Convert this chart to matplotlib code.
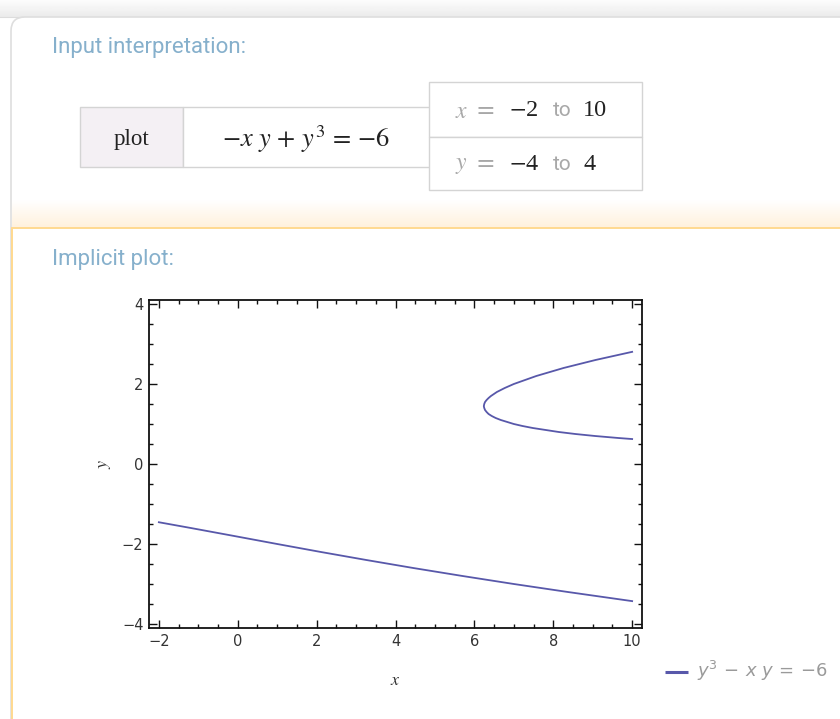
import numpy as np
import matplotlib.pyplot as plt
from matplotlib.colors import LinearSegmentedColormap
from matplotlib.patches import Rectangle, FancyBboxPatch
from matplotlib.ticker import MultipleLocator

lower_x = [-2.0, -1.19, -0.09, 1.0, 2.11, 3.26, 4.45, 5.70, 7.0, 8.37, 9.80, 10.0]
lower_y = [-1.456, -1.6, -1.8, -2.0, -2.2, -2.4, -2.6, -2.8, -3.0, -3.2, -3.4, -3.428]

upper_x = [10.0, 9.65, 9.06, 8.56, 8.14, 7.48, 7.22, 7.0, 6.67, 6.54, 6.44, 6.36, 6.31,
           6.27, 6.25, 6.24, 6.24, 6.25, 6.27, 6.31, 6.36, 6.42, 6.57, 6.77, 7.0,
           7.57, 8.26, 9.07, 10.0]
upper_y = [0.624, 0.65, 0.7, 0.75, 0.8, 0.9, 0.95, 1.0, 1.1, 1.15, 1.2, 1.25, 1.3,
           1.35, 1.4, 1.442, 1.45, 1.5, 1.55, 1.6, 1.65, 1.7, 1.8, 1.9, 2.0,
           2.2, 2.4, 2.6, 2.804]

x_range = (-2, 10)
y_range = (-4, 4)
equation = r"$-x\ y\,+\,y^3\,=\,{-6}$"
legend_label = r"$y^3\,-\,x\ y\,=\,{-6}$"

W, H = 840, 719
CURVE = "#5858aa"
POD_TITLE = "#86b0cc"
GRAY_TXT = "#a8a8a8"

fig = plt.figure(figsize=(W / 100, H / 100), dpi=100)

# background drawn in pixel coordinates
bg = fig.add_axes([0, 0, 1, 1])
bg.set_xlim(0, W)
bg.set_ylim(H, 0)
bg.axis("off")

# top gray band
grad = np.linspace(0.99, 0.92, 20).reshape(-1, 1)
bg.imshow(grad, cmap="gray", vmin=0, vmax=1, extent=[0, W, 17, 0], aspect="auto", zorder=0)
bg.plot([0, W], [17, 17], color="#dcdcdc", lw=0.8, zorder=1)

# card
card = FancyBboxPatch((11, 17), W + 40, 760, boxstyle="round,pad=0,rounding_size=14",
                      fc="white", ec="#dedede", lw=1.2, zorder=1)
bg.add_patch(card)

# orange fade + separator of the second pod
fade = np.linspace(0, 1, 30).reshape(-1, 1)
bg.imshow(fade, cmap=LinearSegmentedColormap.from_list("f", ["#ffffff", "#fff1dc"]),
          extent=[12, W, 228, 200], aspect="auto", zorder=2)
bg.add_patch(Rectangle((11.5, 228), W, 600, fc="white", ec="#ffd98f", lw=1.4, zorder=2))

title_font = dict(family=["Roboto", "DejaVu Sans"], fontsize=16, color=POD_TITLE)
bg.text(52, 47, "Input interpretation:", va="center", ha="left", zorder=5, **title_font)
bg.text(52, 260, "Implicit plot:", va="center", ha="left", zorder=5, **title_font)

# input table
cell_ec = "#d4d4d4"
bg.add_patch(Rectangle((80, 107), 103, 60, fc="#f4f0f4", ec=cell_ec, lw=1, zorder=3))
bg.add_patch(Rectangle((183, 107), 247, 60, fc="white", ec=cell_ec, lw=1, zorder=3))
bg.add_patch(Rectangle((429, 82), 213, 55, fc="white", ec=cell_ec, lw=1, zorder=3))
bg.add_patch(Rectangle((429, 137), 213, 53, fc="white", ec=cell_ec, lw=1, zorder=3))

serif = ["Liberation Serif", "DejaVu Serif"]
bg.text(131, 139, "plot", ha="center", va="center", fontsize=16.5, family=serif,
        color="#222222", zorder=5)
bg.text(306, 139, equation, ha="center", va="center", fontsize=19,
        math_fontfamily="stix", color="#222222", zorder=5)

for row_y, var, lo, hi in [(111, "x", x_range[0], x_range[1]), (164, "y", y_range[0], y_range[1])]:
    bg.text(455, row_y, "$" + var + "$", ha="left", va="center", fontsize=17,
            math_fontfamily="stix", color=GRAY_TXT, zorder=5)
    bg.text(476, row_y, "=", ha="left", va="center", fontsize=17,
            math_fontfamily="stix", color=GRAY_TXT, zorder=5)
    bg.text(509, row_y, "$-$" + str(abs(lo)), ha="left", va="center", fontsize=17.5,
            family=serif, math_fontfamily="stix", color="#222222", zorder=5)
    bg.text(553, row_y, "to", ha="left", va="center", fontsize=15,
            family=["Roboto", "DejaVu Sans"], color=GRAY_TXT, zorder=5)
    bg.text(583, row_y, str(hi), ha="left", va="center", fontsize=17.5,
            family=serif, color="#222222", zorder=5)

# legend
bg.plot([665, 688], [672, 672], color=CURVE, lw=2.2, zorder=5, solid_capstyle="butt")
bg.text(697, 671, legend_label, ha="left", va="center", fontsize=13,
        math_fontfamily="dejavusans", color="#9a9a9a", zorder=5)

# the plot itself
ax = fig.add_axes([149 / W, 1 - 628 / H, 493 / W, 328 / H])
ax.plot(lower_x, lower_y, color=CURVE, lw=1.3)
ax.plot(upper_x, upper_y, color=CURVE, lw=1.3)
ax.set_xlim(-2.25, 10.25)
ax.set_ylim(-4.1, 4.1)

ax.xaxis.set_major_locator(MultipleLocator(2))
ax.yaxis.set_major_locator(MultipleLocator(2))
ax.xaxis.set_minor_locator(MultipleLocator(0.5))
ax.yaxis.set_minor_locator(MultipleLocator(0.5))
ax.tick_params(which="both", direction="in", top=True, right=True, color="#111111",
               width=1.0, labelsize=10.5, labelcolor="#333333", pad=4)
ax.tick_params(which="major", length=5.5)
ax.tick_params(which="minor", length=3)
for s in ax.spines.values():
    s.set_linewidth(1.3)
    s.set_color("#111111")

ax.set_xlabel("$x$", fontsize=13, math_fontfamily="stix", color="#333333", labelpad=16)
ax.set_ylabel("$y$", fontsize=13, math_fontfamily="stix", color="#333333", labelpad=6)

fig.savefig("out.png", dpi=100)
